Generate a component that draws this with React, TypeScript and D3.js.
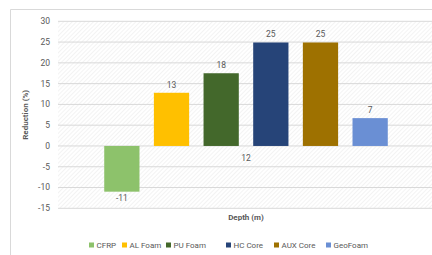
import React from "react";
import * as d3 from "d3";

const categories = ["12"];
const seriesNames = ["CFRP", "AL Foam", "PU Foam", "HC Core", "AUX Core", "GeoFoam"];
const seriesValues = [-11, 12.8, 17.5, 24.9, 24.9, 6.7];
const seriesColors = ["#8DC26B", "#FFC000", "#43682B", "#264478", "#9E7100", "#6A8FD4"];
const yTicks = [-15, -10, -5, 0, 5, 10, 15, 20, 25, 30];
const legendX = [89, 122, 166, 226, 274, 326];

export default function App() {
  const W = 432, H = 255;
  const plotL = 58, plotR = 434, plotT = 21.3, plotB = 208.3;
  const y = d3.scaleLinear().domain([-15, 30]).range([plotB, plotT]);
  const x0 = d3.scaleBand().domain(categories).range([plotL, plotR]).paddingOuter(0.131).paddingInner(0);
  const x1 = d3.scaleBand().domain(seriesNames).range([0, x0.bandwidth()]).paddingInner(0.29).paddingOuter(0.145);
  const fmt = d3.formatLocale({ decimal: ".", thousands: ",", grouping: [3], currency: ["", ""], minus: "-" }).format(".0f");
  const font = "Roboto, 'Noto Sans', sans-serif";
  const gray = "#595959";
  return (
    <svg width={W} height={H} style={{ position: "absolute", left: 0, top: 0 }}>
      <defs>
        <pattern id="hatch" width="3" height="3" patternUnits="userSpaceOnUse" patternTransform="rotate(45)">
          <rect width="3" height="3" fill="#ffffff" />
          <line x1="0" y1="0" x2="0" y2="3" stroke="#ececec" strokeWidth="1.2" />
        </pattern>
      </defs>
      <rect x={0} y={0} width={W} height={H} fill="#ffffff" />
      <line x1={10.5} y1={9.5} x2={W} y2={9.5} stroke="#d9d9d9" />
      <line x1={10.5} y1={9.5} x2={10.5} y2={H} stroke="#d9d9d9" />
      <rect x={plotL} y={plotT} width={plotR - plotL} height={plotB - plotT} fill="url(#hatch)" />
      {yTicks.map((t) => (
        <g key={t}>
          <line x1={plotL} x2={plotR} y1={y(t)} y2={y(t)} stroke="#d9d9d9" strokeWidth={1} />
          <text x={50} y={y(t)} dy="0.35em" textAnchor="end" fontSize={8.5} fill={gray} fontFamily={font}>{fmt(t)}</text>
        </g>
      ))}
      {categories.map((c) => (
        <g key={c} transform={`translate(${x0(c)},0)`}>
          {seriesNames.map((s, i) => {
            const v = seriesValues[i];
            const bx = x1(s)!;
            const top = y(Math.max(0, v));
            const bot = y(Math.min(0, v));
            return (
              <g key={s}>
                <rect x={bx} y={top} width={x1.bandwidth()} height={bot - top} fill={seriesColors[i]} />
                <text x={bx + x1.bandwidth() / 2} y={v >= 0 ? top - 5 : bot + 9} textAnchor="middle" fontSize={8.5} fill={gray} fontFamily={font}>{fmt(v)}</text>
              </g>
            );
          })}
          <text x={x0.bandwidth() / 2} y={y(0) + 12} dy="0.35em" textAnchor="middle" fontSize={8.5} fill={gray} fontFamily={font}>{c}</text>
        </g>
      ))}
      <text x={246} y={220} textAnchor="middle" fontSize={8} fontWeight="bold" fill={gray} fontFamily={font}>Depth (m)</text>
      <text transform={`translate(28,${(plotT + plotB) / 2}) rotate(-90)`} textAnchor="middle" fontSize={8} fontWeight="bold" fill={gray} fontFamily={font}>Reduction (%)</text>
      {seriesNames.map((s, i) => (
        <g key={s} transform={`translate(${legendX[i]},245)`}>
          <rect x={0} y={-2.5} width={5} height={5} fill={seriesColors[i]} />
          <text x={7.5} y={0} dy="0.35em" fontSize={8} fill={gray} fontFamily={font}>{s}</text>
        </g>
      ))}
    </svg>
  );
}
